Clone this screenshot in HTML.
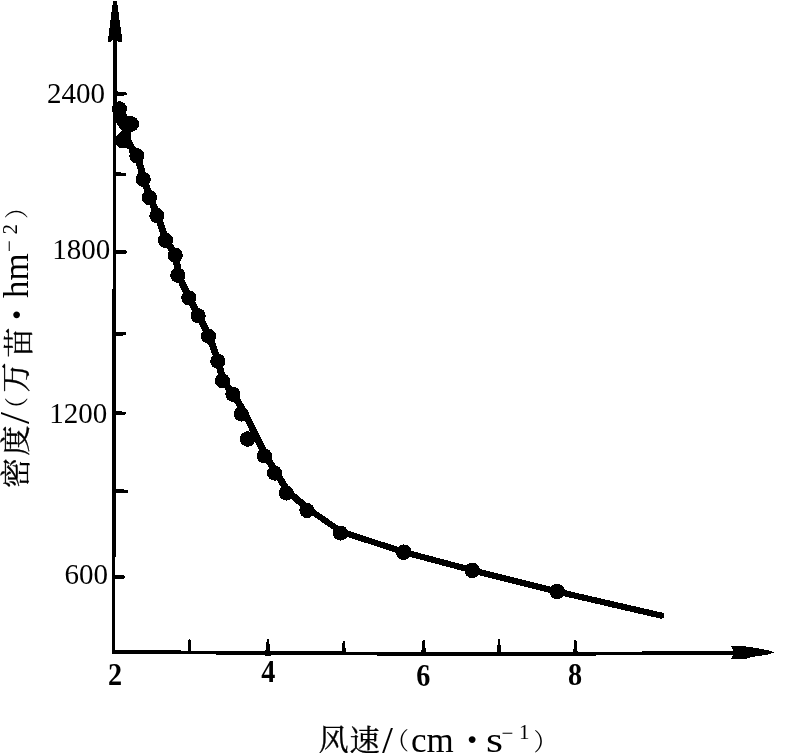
<!DOCTYPE html>
<html lang="zh">
<head>
<meta charset="utf-8">
<title>密度与风速关系图</title>
<style>
  html, body { margin: 0; padding: 0; background: #ffffff; }
  body { width: 799px; height: 753px; overflow: hidden; }
  svg { display: block; }
  .num  { font-family: "Liberation Serif", "Noto Serif CJK SC", serif; font-size: 29px; fill: #000; }
  .xnum { font-family: "Liberation Serif", "Noto Serif CJK SC", serif; font-size: 32px; font-weight: bold; fill: #000; }
  .cjk  { font-family: "Liberation Serif", "Noto Serif CJK SC", serif; font-size: 30px; fill: #000; stroke: #000; stroke-width: 0.35px; }
  .par  { font-family: "Liberation Serif", "Noto Serif CJK SC", serif; font-size: 24px; fill: #000; }
  .sl   { font-family: "Liberation Serif", "Noto Serif CJK SC", serif; font-size: 43px; fill: #000; }
  .dot  { font-family: "Liberation Serif", "Noto Serif CJK SC", serif; font-size: 58px; fill: #000; }
  .lat  { font-family: "Liberation Serif", "Noto Serif CJK SC", serif; font-size: 35px; fill: #000; }
  .sup  { font-family: "Liberation Serif", "Noto Serif CJK SC", serif; font-size: 21px; fill: #000; }
</style>
</head>
<body>
<svg width="799" height="753" viewBox="0 0 799 753" shape-rendering="crispEdges">
  <rect x="0" y="0" width="799" height="753" fill="#ffffff"/>

  <!-- axes -->
  <g stroke="#000" fill="none" stroke-linecap="butt">
    <line x1="114.9" y1="38" x2="113.5" y2="654" stroke-width="3.6"/>
    <polyline points="111.7,652 265,652.9 425,653.9 575,653.7 733,653" stroke-width="3.8"/>
  </g>

  <!-- arrow heads -->
  <path d="M113 1 L117 1 L122 38 L121.7 42.5 L118.5 42 L116.5 39.5 L112.5 39.5 L110.5 41.5 L108 41.5 L108.8 33 Z" fill="#000"/>
  <path d="M731 646.3 L742 646 L753 647.5 L768 650.2 L774 652.4 L768 654.6 L752 657 L745 659 L731 659 L733 655.5 L733 650 Z" fill="#000"/>

  <!-- y ticks -->
  <g fill="#000">
    <path d="M114 91.1 L126.2 92.3 Q128.2 93.8 126.2 95.3 L114 96.5 Z"/>
    <path d="M114 172.0 L125.5 172.8 Q127.5 174.3 125.5 175.8 L114 176.6 Z"/>
    <path d="M114 249.7 L126.3 250.5 Q128.3 252.0 126.3 253.5 L114 254.3 Z"/>
    <path d="M114 331.4 L125.5 332.3 Q127.5 333.8 125.5 335.3 L114 336.2 Z"/>
    <path d="M114 410.9 L124.8 411.7 Q126.8 413.2 124.8 414.7 L114 415.5 Z"/>
    <path d="M114 488.9 L127.6 489.7 Q129.6 491.2 127.6 492.7 L114 493.5 Z"/>
    <path d="M114 574.7 L124.1 575.5 Q126.1 577.0 124.1 578.5 L114 579.3 Z"/>
  </g>

  <!-- x ticks -->
  <g fill="#000">
    <path d="M187.6 652.2 L188.4 640.0 Q189.6 638.0 190.8 640.0 L191.6 652.2 Z"/>
    <path d="M265.2 652.8 L266.7 640.2 Q267.9 638.2 269.1 640.2 L270.6 652.8 Z"/>
    <path d="M341.7 653 L342.6 641.8000000000001 Q343.8 639.8000000000001 345.0 641.8000000000001 L345.9 653 Z"/>
    <path d="M421.2 653.6 L422.4 640.8000000000001 Q423.6 638.8000000000001 424.8 640.8000000000001 L426.0 653.6 Z"/>
    <path d="M497.0 653.6 L497.8 640.2 Q499.0 638.2 500.2 640.2 L501.0 653.6 Z"/>
    <path d="M573.1 653.5 L574.2 640.8000000000001 Q575.4 638.8000000000001 576.6 640.8000000000001 L577.7 653.5 Z"/>
    <ellipse cx="267.9" cy="654.6" rx="3.2" ry="1.5"/>
    <ellipse cx="579.5" cy="655.2" rx="5" ry="1.2"/>
  </g>

  <!-- curve -->
  <polyline fill="none" stroke="#000" stroke-width="7" stroke-linejoin="round" stroke-linecap="round"
    points="137.5,155.8 143.8,179.3 150.0,197.5 157.5,215.6 166.1,240.5 175.8,255.2 178.4,275.3 189.4,297.8 198.7,315.8 209.1,336.2 218.4,361.3 223.0,380.8 233.5,394.3 245.2,413.8 265.6,455.4 276.0,472.3 288.0,491.8 308.6,509.2"/>
  <polyline fill="none" stroke="#000" stroke-width="6.2" stroke-linejoin="round" stroke-linecap="round"
    points="308.6,509.2 341.4,531.8 403.8,552.0 472.2,570.3 557.1,591.5 661.2,615.6"/>

  <path fill="#000" d="M115 101.6 L120.5 102 Q125.6 103.6 126.4 109.5 L126.6 116.2 L131.3 116.2 L131.3 131.9 L130.8 137.8 L133.8 145 L136.9 148.6 L136.9 163 L130.6 159.5 L128.9 149.5 L126 147.6 L120 147.8 L115 144.5 L115 137.4 L121.8 130.9 L115 121.4 Z"/>

  <!-- data points -->
  <g fill="#000">
    <circle cx="119.4" cy="108.8" r="7.6"/>
    <circle cx="131.3" cy="124" r="7.8"/>
    <circle cx="122.5" cy="140.5" r="7.9"/>
    <circle cx="136.9" cy="155.8" r="7.6"/>
    <circle cx="143.2" cy="179.3" r="7.6"/>
    <circle cx="149.4" cy="197.5" r="7.6"/>
    <circle cx="156.9" cy="215.6" r="7.6"/>
    <circle cx="165.5" cy="240.3" r="7.6"/>
    <circle cx="175.2" cy="255.2" r="7.6"/>
    <circle cx="177.8" cy="275.3" r="7.6"/>
    <circle cx="188.8" cy="297.8" r="7.6"/>
    <circle cx="198.1" cy="315.8" r="7.6"/>
    <circle cx="208.5" cy="336.2" r="7.6"/>
    <circle cx="217.8" cy="361.3" r="7.6"/>
    <circle cx="222.4" cy="380.8" r="7.6"/>
    <circle cx="232.9" cy="394.3" r="7.6"/>
    <circle cx="241.3" cy="414" r="7.6"/>
    <circle cx="247.6" cy="439" r="7.8"/>
    <circle cx="264.4" cy="455.9" r="7.6"/>
    <circle cx="274.6" cy="473.1" r="7.6"/>
    <circle cx="286.3" cy="493" r="7.6"/>
    <circle cx="307" cy="510.5" r="7.6"/>
    <circle cx="340.5" cy="533.1" r="7.6"/>
    <circle cx="403.8" cy="552.2" r="7.8"/>
    <circle cx="472.2" cy="570.3" r="7.8"/>
    <circle cx="557.1" cy="591.5" r="7.8"/>
  </g>

  <!-- y tick labels -->
  <text class="num" x="105" y="103" text-anchor="end">2400</text>
  <text class="num" x="110.2" y="259" text-anchor="end">1800</text>
  <text class="num" x="107.2" y="422.5" text-anchor="end">1200</text>
  <text class="num" x="108" y="584" text-anchor="end">600</text>

  <!-- x tick labels -->
  <text class="xnum" transform="translate(115.1,684.6) scale(0.88,1)" x="0" y="0" text-anchor="middle">2</text>
  <text class="xnum" transform="translate(268.2,682.3) scale(0.88,1)" x="0" y="0" text-anchor="middle">4</text>
  <text class="xnum" transform="translate(423.2,685.8) scale(0.88,1)" x="0" y="0" text-anchor="middle">6</text>
  <text class="xnum" transform="translate(575.1,685.3) scale(0.88,1)" x="0" y="0" text-anchor="middle">8</text>

  <!-- x axis title -->
  <text class="cjk" x="318.5" y="750">风</text>
  <text class="cjk" x="349.5" y="750.5">速</text>
  <text class="sl" x="381" y="756.2">/</text>
  <text class="par" x="385" y="748.5">（</text>
  <text class="lat" x="411" y="752">cm</text>
  <text class="dot" x="462.5" y="759">·</text>
  <text class="lat" x="486" y="752" textLength="17" lengthAdjust="spacingAndGlyphs">s</text>
  <text class="sup" x="501.5" y="739.5">−</text>
  <text class="sup" x="519" y="739">1</text>
  <text class="par" x="533.5" y="750">）</text>

  <!-- y axis title (rotated) -->
  <g transform="translate(28,487) rotate(-90)">
    <text class="cjk" x="-1" y="-2.5">密</text>
    <text class="cjk" x="31.5" y="-2">度</text>
    <text class="sl" x="63" y="0.5">/</text>
    <text class="par" x="66" y="-3.5">（</text>
    <text class="cjk" x="94.5" y="-2">万</text>
    <text class="cjk" x="129.5" y="0.5">苗</text>
    <text class="dot" x="162.5" y="7.5">·</text>
    <text class="lat" x="189" y="0">hm</text>
    <text class="sup" x="235" y="-12">−</text>
    <text class="sup" x="252.5" y="-11.5">2</text>
    <text class="par" x="268" y="-3">）</text>
  </g>
</svg>
</body>
</html>
